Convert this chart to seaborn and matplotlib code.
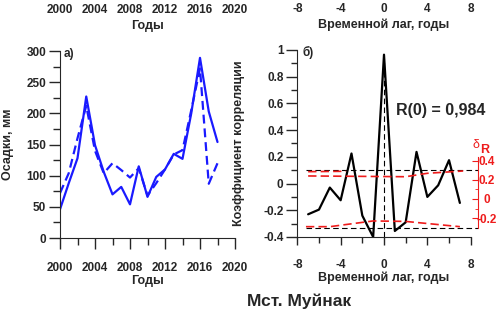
import numpy as np
import matplotlib
matplotlib.use('Agg')
import matplotlib.pyplot as plt
import matplotlib.ticker as mticker
import seaborn as sns

# precipitation, mm (solid = observed, dashed = model)
years = list(range(2000, 2019))
precip_obs = [46, 88, 128, 227, 149, 106, 70, 82, 54, 115, 66, 98, 110, 135, 127, 200, 289, 203, 154]
precip_mod = [72, 104, 160, 212, 140, 104, 120, 109, 97, 112, 68, 88, 110, 134, 141, 205, 272, 87, 120]

# cross-correlation vs time lag
lags = list(range(-7, 8))
corr = [-0.23, -0.195, -0.03, -0.125, 0.225, -0.24, -0.40, 0.965, -0.355, -0.29, 0.237, -0.10, -0.013, 0.175, -0.145]

# significance levels (right red axis, dR)
band_lags = [-7.2, 8.65]
band_hi = [0.305, 0.305]
band_lo = [-0.307, -0.307]
red_hi1_lags = [-7, -3.5]
red_hi1 = [0.286, 0.29]
red_hi2_lags = [-7, 0, 2, 4, 7.3]
red_hi2 = [0.241, 0.235, 0.233, 0.269, 0.293]
red_lo_lags = [-7.2, -5, -1, 2, 7]
red_lo = [-0.29, -0.29, -0.23, -0.235, -0.29]

sns.set_style('ticks')
plt.rcParams['font.family'] = ['Liberation Sans', 'DejaVu Sans']
plt.rcParams['font.weight'] = 'bold'
plt.rcParams['axes.labelweight'] = 'bold'
plt.rcParams['axes.unicode_minus'] = False

blue = '#1a1aff'
red = '#ee1c1c'

fig = plt.figure(figsize=(5, 3.17), dpi=100)

# ---- panel a) ----
ax1 = fig.add_axes([0.12, 0.2492, 0.35, 0.5899])
sns.lineplot(x=years, y=precip_obs, ax=ax1, color=blue, lw=1.6)
sns.lineplot(x=years, y=precip_mod, ax=ax1, color=blue, lw=1.6, linestyle=(0, (4, 2.2)))
ax1.set_xlim(2000, 2020)
ax1.set_ylim(0, 300)
ax1.xaxis.set_major_locator(mticker.MultipleLocator(4))
ax1.xaxis.set_minor_locator(mticker.MultipleLocator(2))
ax1.yaxis.set_major_locator(mticker.MultipleLocator(50))
ax1.yaxis.set_minor_locator(mticker.MultipleLocator(25))
ax1.tick_params(which='major', length=8, width=1, labelsize=8.5, pad=9)
ax1.tick_params(which='minor', length=5, width=1)
ax1.tick_params(axis='y', which='major', pad=2)
for s in ['top', 'right']:
    ax1.spines[s].set_visible(False)
ax1.set_xlabel('Годы', fontsize=9)
ax1.xaxis.set_label_coords(0.5, -0.2)
ax1.set_ylabel('Осадки, мм', fontsize=9)
ax1.yaxis.set_label_coords(-0.265, 0.5)
top1 = ax1.secondary_xaxis('top')
top1.set_xticks([2000, 2004, 2008, 2012, 2016, 2020])
top1.tick_params(length=0, labelsize=8.5, pad=25)
top1.spines['top'].set_visible(False)
ax1.text(0.5, 1.134, 'Годы', transform=ax1.transAxes, ha='center', va='center', fontsize=9)
ax1.text(0.02, 0.985, 'а)', transform=ax1.transAxes, ha='left', va='center', fontsize=8.5)

# ---- panel b) ----
fmt = mticker.FuncFormatter(lambda v, p: '%g' % (round(v, 1) + 0.0))
ax2 = fig.add_axes([0.5946, 0.2524, 0.3468, 0.5899])
sns.lineplot(x=lags, y=corr, ax=ax2, color='black', lw=1.6, zorder=3)
ax2.plot([0, 0], [-0.4, 0.93], color='black', lw=0.8, linestyle=(0, (5, 3)))
ax2.set_xlim(-8, 8)
ax2.set_ylim(-0.4, 1)
ax2.xaxis.set_major_locator(mticker.MultipleLocator(4))
ax2.xaxis.set_minor_locator(mticker.MultipleLocator(2))
ax2.yaxis.set_major_locator(mticker.MultipleLocator(0.2))
ax2.yaxis.set_minor_locator(mticker.MultipleLocator(0.1))
ax2.yaxis.set_major_formatter(fmt)
ax2.tick_params(which='major', length=8, width=1, labelsize=8.5, pad=2)
ax2.tick_params(which='minor', length=4, width=1)
ax2.tick_params(axis='x', which='major', length=6, pad=10)
for s in ['top', 'right']:
    ax2.spines[s].set_visible(False)
ax2.set_xlabel('Временной лаг, годы', fontsize=9)
ax2.xaxis.set_label_coords(0.5, -0.185)
ax2.set_ylabel('Коэффициент корреляции', fontsize=9)
ax2.yaxis.set_label_coords(-0.30, 0.5)
top2 = ax2.secondary_xaxis('top')
top2.set_xticks([-8, -4, 0, 4, 8])
top2.tick_params(length=0, labelsize=8.5, pad=25)
top2.spines['top'].set_visible(False)
ax2.text(0.5, 1.134, 'Временной лаг, годы', transform=ax2.transAxes, ha='center', va='center', fontsize=9)
ax2.text(0.03, 0.985, 'б)', transform=ax2.transAxes, ha='left', va='center', fontsize=8.5)
ax2.text(1.15, 0.55, 'R(0) = 0,984', ha='left', va='center', fontsize=11.5)

# ---- red dR axis ----
ax3 = fig.add_axes([0.5946, 0.2524, 0.3614, 0.5899])
ax3.patch.set_visible(False)
sns.lineplot(x=band_lags, y=band_hi, ax=ax3, color='black', lw=0.8, linestyle=(0, (5, 3)))
sns.lineplot(x=band_lags, y=band_lo, ax=ax3, color='black', lw=0.8, linestyle=(0, (5, 3)))
sns.lineplot(x=red_hi1_lags, y=red_hi1, ax=ax3, color=red, lw=1.2, linestyle=(0, (5, 2.5)))
sns.lineplot(x=red_hi2_lags, y=red_hi2, ax=ax3, color=red, lw=1.2, linestyle=(0, (5, 2.5)))
sns.lineplot(x=red_lo_lags, y=red_lo, ax=ax3, color=red, lw=1.2, linestyle=(0, (5, 2.5)))
ax3.set_xlim(-8, 8.67)
ax3.set_ylim(-0.398, 1.56)
for s in ['top', 'left', 'bottom']:
    ax3.spines[s].set_visible(False)
ax3.spines['right'].set_color(red)
ax3.spines['right'].set_bounds(-0.30, 0.44)
ax3.tick_params(axis='x', bottom=False, labelbottom=False)
ax3.yaxis.tick_right()
ax3.yaxis.set_major_locator(mticker.FixedLocator([-0.2, 0, 0.2, 0.4]))
ax3.yaxis.set_minor_locator(mticker.FixedLocator([-0.3, -0.1, 0.1, 0.3]))
ax3.yaxis.set_major_formatter(fmt)
ax3.tick_params(axis='y', which='both', direction='in', colors=red, labelcolor=red, labelsize=8.5, pad=6)
ax3.tick_params(axis='y', which='major', length=4)
ax3.tick_params(axis='y', which='minor', length=2.5)
for t in ax3.get_yticklabels():
    t.set_horizontalalignment('center')
fig.text(476 / 500, 1 - 145 / 317, 'δ', color=red, fontsize=9, fontweight='normal', ha='center', va='center')
fig.text(485 / 500, 1 - 150 / 317, 'R', color=red, fontsize=9, ha='center', va='center')

fig.text(299 / 500, 1 - 301 / 317, 'Мст. Муйнак', ha='center', va='center', fontsize=12.5)

fig.savefig('out.png', dpi=100)
